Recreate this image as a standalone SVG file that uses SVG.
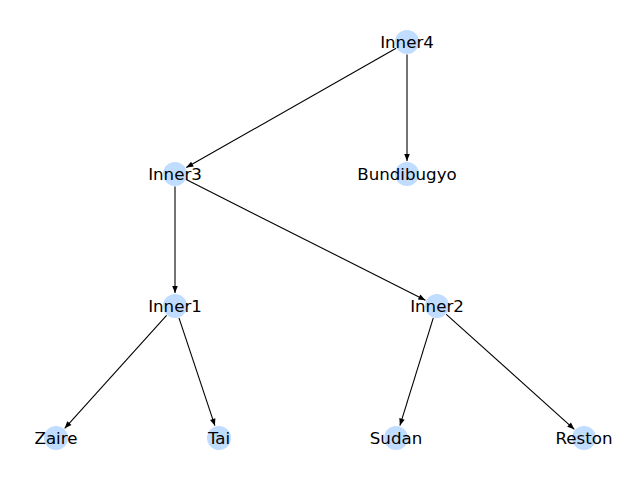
<svg xmlns="http://www.w3.org/2000/svg" width="640" height="480" viewBox="0 0 640 480">
<style>
.node circle{fill:#c0dcff;stroke:none}
.node text{font-family:"DejaVu Sans",sans-serif;font-size:16.67px;fill:#000;text-anchor:middle;dominant-baseline:central}
.edges line{stroke:#000;stroke-width:1.1;marker-end:url(#arr)}
</style>
<defs>
<marker id="arr" markerUnits="userSpaceOnUse" markerWidth="10" markerHeight="8" viewBox="0 -4 10 8" refX="7" refY="0" orient="auto" overflow="visible">
<path d="M0,-2.8 L7,0 L0,2.8 z" fill="#000"/>
</marker>
</defs>
<rect width="640" height="480" fill="#fff"/>
<g class="edges">
<line x1="396.1" y1="48.2" x2="186.3" y2="167.6"/>
<line x1="407" y1="54.5" x2="407" y2="161"/>
<line x1="175" y1="186.5" x2="175" y2="293"/>
<line x1="186.2" y1="179.6" x2="425.4" y2="300.2"/>
<line x1="166.6" y1="315.3" x2="64.7" y2="428.3"/>
<line x1="178.95" y1="317.9" x2="214.9" y2="425.7"/>
<line x1="433.3" y1="317.9" x2="399.9" y2="425.6"/>
<line x1="446.3" y1="314.4" x2="574.3" y2="429.3"/>
</g>
<g id="Inner4" class="node"><circle cx="407" cy="42" r="12"/><text x="407" y="42">Inner4</text></g>
<g id="Inner3" class="node"><circle cx="175" cy="174" r="12"/><text x="175" y="174">Inner3</text></g>
<g id="Bundibugyo" class="node"><circle cx="407" cy="174" r="12"/><text x="407" y="174">Bundibugyo</text></g>
<g id="Inner1" class="node"><circle cx="175" cy="306" r="12"/><text x="175" y="306">Inner1</text></g>
<g id="Inner2" class="node"><circle cx="437" cy="306" r="12"/><text x="437" y="306">Inner2</text></g>
<g id="Zaire" class="node"><circle cx="56" cy="438" r="12"/><text x="56" y="438">Zaire</text></g>
<g id="Tai" class="node"><circle cx="219" cy="438" r="12"/><text x="219" y="438">Tai</text></g>
<g id="Sudan" class="node"><circle cx="396" cy="438" r="12"/><text x="396" y="438">Sudan</text></g>
<g id="Reston" class="node"><circle cx="584" cy="438" r="12"/><text x="584" y="438">Reston</text></g>
</svg>
